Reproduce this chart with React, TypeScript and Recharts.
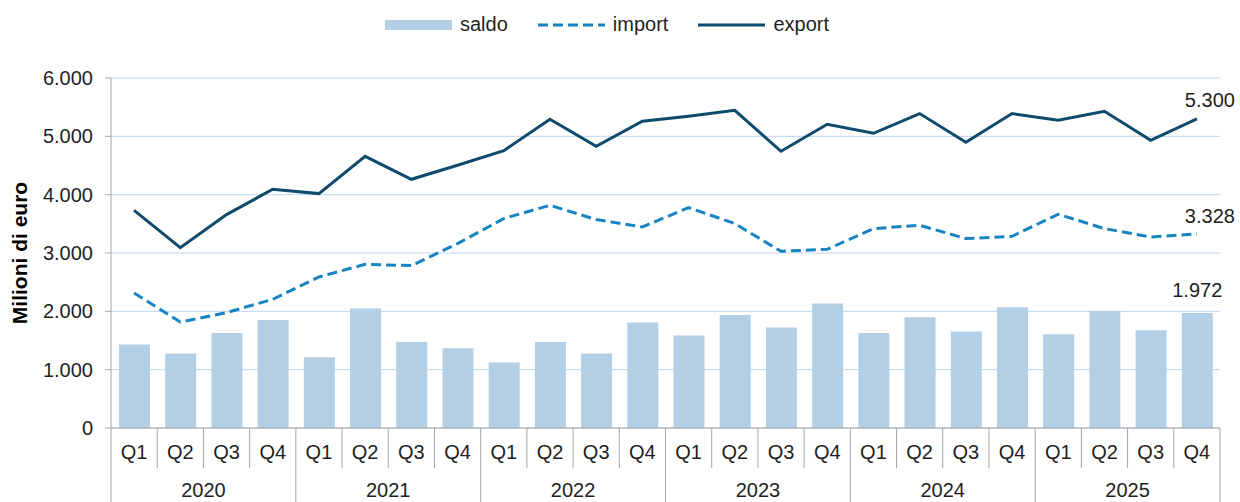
import React from 'react'
import {
  Bar,
  CartesianGrid,
  ComposedChart,
  Line,
  XAxis,
  YAxis,
} from 'recharts'

const years = ['2020', '2021', '2022', '2023', '2024', '2025']
const quarters = ['Q1', 'Q2', 'Q3', 'Q4']

const saldo = [
  1430, 1276, 1630, 1853, 1213, 2048, 1475, 1367, 1125, 1475, 1276, 1808,
  1585, 1938, 1722, 2134, 1630, 1899, 1653, 2070, 1607, 2007, 1676, 1972,
]
const importVals = [
  2315, 1817, 1978, 2206, 2589, 2806, 2784, 3161, 3590, 3818, 3573, 3446,
  3778, 3504, 3029, 3064, 3418, 3475, 3247, 3287, 3664, 3418, 3275, 3328,
]
const exportVals = [
  3732, 3092, 3658, 4092, 4018, 4658, 4264, 4504, 4755, 5292, 4829, 5258,
  5344, 5447, 4744, 5207, 5052, 5390, 4898, 5390, 5275, 5430, 4933, 5300,
]
const yTicks = [0, 1000, 2000, 3000, 4000, 5000, 6000]

const data = years.flatMap((year, yi) =>
  quarters.map((q, qi) => {
    const i = yi * 4 + qi
    return {
      year,
      q,
      saldo: saldo[i],
      import: importVals[i],
      export: exportVals[i],
    }
  }),
)

const WIDTH = 1240
const HEIGHT = 502
const Y_AXIS_W = 111
const RIGHT = 20
const TOP = 78
const X_AXIS_H = 74
const BAND = (WIDTH - Y_AXIS_W - RIGHT) / data.length

const FONT = 'Liberation Sans, Arial, sans-serif'
const FS = 20
const TEXT = '#1f1f1f'
const AXIS = '#a6a6a6'
const GRID = '#bdd7ee'
const C_SALDO = '#b2cfe6'
const C_IMPORT = '#1784c2'
const C_EXPORT = '#0d4a6b'

const fmt = (v: number): string =>
  String(v).replace(/\B(?=(\d{3})+(?!\d))/g, '.')

const QuarterTick = (props: any) => {
  const { x, y, payload, index } = props
  const row = data[index]
  const half = BAND / 2
  const isYearStart = row.q === 'Q1'
  const isLast = index === data.length - 1
  return (
    <g>
      <line
        x1={x - half}
        x2={x - half}
        y1={y}
        y2={y + (isYearStart ? X_AXIS_H : 40)}
        stroke={AXIS}
      />
      {isLast && (
        <line x1={x + half} x2={x + half} y1={y} y2={y + X_AXIS_H} stroke={AXIS} />
      )}
      <text
        x={x}
        y={y + 31}
        textAnchor="middle"
        fontSize={FS}
        fontFamily={FONT}
        fill={TEXT}
      >
        {payload.value}
      </text>
      {row.q === 'Q2' && (
        <text
          x={x + half}
          y={y + 69}
          textAnchor="middle"
          fontSize={FS}
          fontFamily={FONT}
          fill={TEXT}
        >
          {row.year}
        </text>
      )}
    </g>
  )
}

const YLabel = (props: any) => {
  const { viewBox } = props
  const cx = 19
  const cy = viewBox.y + viewBox.height / 2
  return (
    <text
      x={cx}
      y={cy}
      transform={`rotate(-90, ${cx}, ${cy})`}
      textAnchor="middle"
      dominantBaseline="central"
      fontSize={21}
      fontWeight="bold"
      fontFamily={FONT}
      fill="#000"
    >
      Milioni di euro
    </text>
  )
}

const lineEndLabel = (dy: number) => (props: any) => {
  const { x, y, value, index } = props
  if (index !== data.length - 1) return null
  return (
    <text
      x={x + 13}
      y={y + dy}
      textAnchor="middle"
      fontSize={FS}
      fontFamily={FONT}
      fill={TEXT}
    >
      {fmt(value)}
    </text>
  )
}

const barEndLabel = (props: any) => {
  const { x, y, width, value, index } = props
  if (index !== data.length - 1) return null
  return (
    <text
      x={x + width / 2}
      y={y - 16}
      textAnchor="middle"
      fontSize={FS}
      fontFamily={FONT}
      fill={TEXT}
    >
      {fmt(value)}
    </text>
  )
}

const legendItems = [
  { name: 'saldo', kind: 'bar' },
  { name: 'import', kind: 'dash' },
  { name: 'export', kind: 'line' },
]

const ChartLegend = () => (
  <div
    style={{
      position: 'absolute',
      top: 13,
      left: 385,
      display: 'flex',
      alignItems: 'center',
      gap: 30,
      fontFamily: FONT,
      fontSize: FS,
      color: TEXT,
    }}
  >
    {legendItems.map((it) => (
      <div key={it.name} style={{ display: 'flex', alignItems: 'center', gap: 8 }}>
        <svg width={67} height={12}>
          {it.kind === 'bar' && <rect x={0} y={1} width={67} height={10} fill={C_SALDO} />}
          {it.kind === 'dash' && (
            <line x1={0} x2={67} y1={6} y2={6} stroke={C_IMPORT} strokeWidth={3} strokeDasharray="10 5" />
          )}
          {it.kind === 'line' && (
            <line x1={0} x2={67} y1={6} y2={6} stroke={C_EXPORT} strokeWidth={3} />
          )}
        </svg>
        <span>{it.name}</span>
      </div>
    ))}
  </div>
)

export default function App() {
  return (
    <div style={{ position: 'absolute', left: 0, top: 0, width: WIDTH, height: HEIGHT, background: '#fff' }}>
      <ChartLegend />
      <ComposedChart
        width={WIDTH}
        height={HEIGHT}
        data={data}
        margin={{ top: TOP, right: RIGHT, left: 0, bottom: 0 }}
        barSize={31}
      >
        <CartesianGrid vertical={false} horizontal stroke={GRID} strokeWidth={1} />
        <XAxis
          dataKey="q"
          height={X_AXIS_H}
          interval={0}
          tickLine={false}
          tickSize={0}
          tickMargin={0}
          stroke={AXIS}
          tick={<QuarterTick />}
        />
        <YAxis
          width={Y_AXIS_W}
          domain={[0, 6000]}
          ticks={yTicks}
          interval={0}
          tickFormatter={fmt}
          tickSize={6}
          tickMargin={12}
          stroke={AXIS}
          tick={{ fill: TEXT, fontSize: FS, fontFamily: FONT }}
          label={<YLabel />}
        />
        <Bar
          dataKey="saldo"
          fill={C_SALDO}
          isAnimationActive={false}
          label={barEndLabel}
        />
        <Line
          type="linear"
          dataKey="import"
          stroke={C_IMPORT}
          strokeWidth={3}
          strokeDasharray="10 5"
          dot={false}
          isAnimationActive={false}
          label={lineEndLabel(-11)}
        />
        <Line
          type="linear"
          dataKey="export"
          stroke={C_EXPORT}
          strokeWidth={3}
          dot={false}
          isAnimationActive={false}
          label={lineEndLabel(-12)}
        />
      </ComposedChart>
    </div>
  )
}
